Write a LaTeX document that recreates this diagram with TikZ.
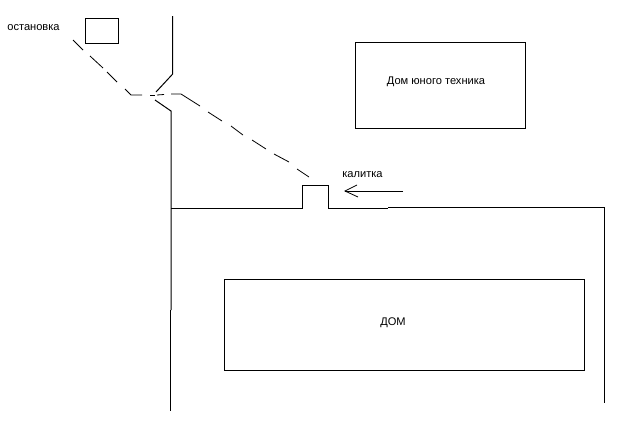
\documentclass[tikz,border=0pt]{standalone}
\usepackage{fontspec}
\setmainfont{Liberation Sans}
\tikzset{
  line/.style={draw=black,line width=1pt},
  thin line/.style={draw=black,line width=0.8pt},
  label text/.style={font=\fontsize{11.1}{13}\selectfont,inner sep=0pt,text=black},
  boxshape/.style={draw=black,line width=1pt,fill=white,inner sep=0pt,minimum width=#1}
}
\begin{document}
\begin{tikzpicture}[x=1pt,y=-1pt]
\useasboundingbox (0,0) rectangle (642,429);
% rectangles
\node[boxshape=33pt,minimum height=25.5pt] (stop) at (102,31) {};
\node[boxshape=170pt,minimum height=86pt] (center) at (440,85) {};
\node[boxshape=360pt,minimum height=91pt] (house) at (404,324.5) {};
% labels
\node[label text] (stoplabel) at (33.5,28) {остановка};
\node[label text] (centerlabel) at (436,81.7) {Дом юного техника};
\node[label text] (gatelabel) at (362.5,174.5) {калитка};
\node[label text] (houselabel) at (393,323) {ДОМ};
% road
\coordinate (roadtop) at (172.7,16);
\coordinate (roadbend) at (172.7,74);
\coordinate (roadgap) at (156,92);
\coordinate (lowgap) at (155,100);
\coordinate (lowbend) at (171,111);
\coordinate (lowmid) at (171,310);
\coordinate (lowmidb) at (170,310);
\coordinate (lowend) at (170,411);
\draw[line] (roadtop) -- (roadbend) -- (roadgap);
\draw[line] (lowgap) -- (lowbend) -- (lowmid);
\draw[line] (lowmidb) -- (lowend);
% fence with gate
\coordinate (fa) at (171,208);
\coordinate (fb) at (302.7,208);
\coordinate (fc) at (302.7,185);
\coordinate (fd) at (328,185);
\coordinate (fe) at (328,208);
\coordinate (ff) at (388,208);
\coordinate (fg) at (388,207.3);
\coordinate (fh) at (604.6,207.3);
\coordinate (fi) at (604.6,403);
\draw[line] (fa) -- (fb) -- (fc) -- (fd) -- (fe) -- (ff);
\draw[line] (fg) -- (fh) -- (fi);
% gate arrow
\coordinate (ga) at (403,191);
\coordinate (gb) at (345,191);
\coordinate (gc) at (357,185);
\coordinate (gd) at (358,197);
\draw[line] (ga) -- (gb);
\draw[thin line] (gc) -- (gb) -- (gd);
% dashed path
\foreach \a/\b/\c/\d in {73/40/83/50, 90/56/103/68, 107/72/117/82,
    150/95/155/95, 157/95/164/94.5,
    208/112/222/121, 231/126/243/135, 252/140/266/149, 274/154/289/162, 297/169/309/177}
  \draw[thin line] (\a,\b) -- (\c,\d);
\coordinate (pa) at (125,89);
\coordinate (pb) at (131,95);
\coordinate (pc) at (142,95);
\coordinate (pd) at (171,94);
\coordinate (pe) at (181,94);
\coordinate (pf) at (200,106);
\draw[thin line] (pa) -- (pb) -- (pc);
\draw[thin line] (pd) -- (pe) -- (pf);
\end{tikzpicture}
\end{document}
